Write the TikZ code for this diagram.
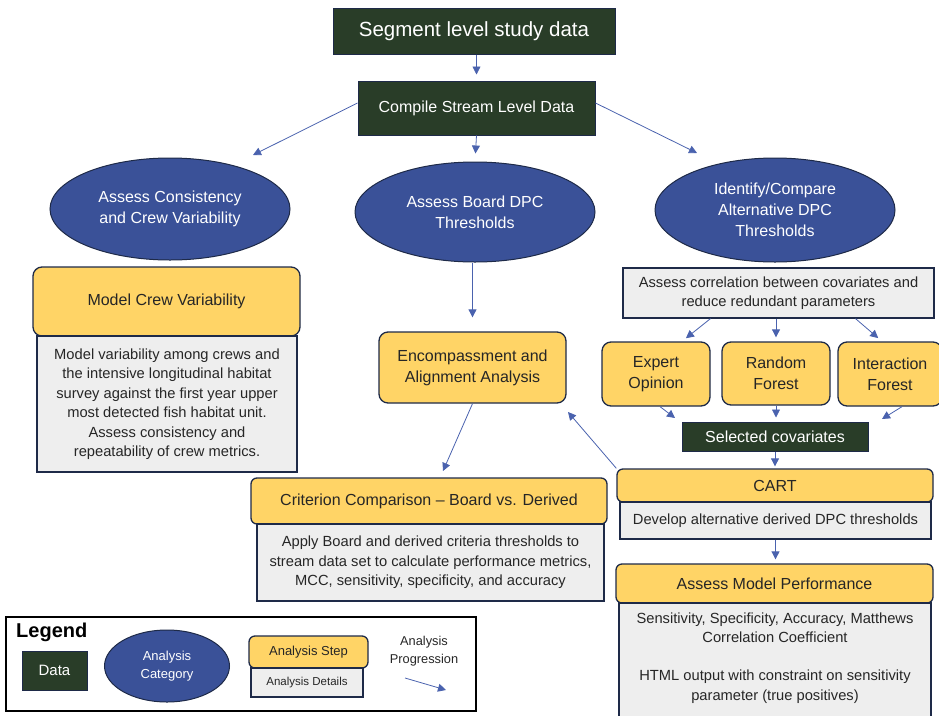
\documentclass[tikz,border=0pt]{standalone}
\usepackage{fontspec}
\setmainfont{Liberation Sans}
\usetikzlibrary{arrows.meta, positioning, shapes.geometric}
\definecolor{datagreen}{HTML}{293D28}
\definecolor{catblue}{HTML}{3A5198}
\definecolor{stepyellow}{HTML}{FFD466}
\definecolor{detgray}{HTML}{EEEEEE}
\definecolor{edgenavy}{HTML}{1E2A48}
\definecolor{flowblue}{HTML}{4A62AE}
\newcommand{\fs}[2]{\fontsize{#1}{#2}\selectfont}

\begin{document}
\begin{tikzpicture}[
  x=1pt, y=-1pt,
  data/.style={draw=edgenavy, line width=1pt, fill=datagreen, text=white,
               align=center, inner sep=0pt},
  cat/.style={ellipse, draw=edgenavy, line width=1pt, fill=catblue, text=white,
              align=center, inner sep=0pt, font=\fs{16}{21}},
  stepbox/.style={draw=edgenavy, line width=1.3pt, fill=stepyellow, text=black!85,
                  rounded corners=9pt, align=center, inner sep=0pt, font=\fs{16}{21}},
  detail/.style={draw=edgenavy, line width=1.2pt, fill=detgray, text=black!85,
                 align=center, inner sep=0pt, font=\fs{14.7}{19.5}},
  flow/.style={draw=flowblue, line width=0.8pt, -{Triangle[length=8pt,width=8pt]}},
  >={Triangle[]}
]
\useasboundingbox (0,0) rectangle (939,715);

% data and categories
\node[data, minimum width=282, minimum height=46, font=\fs{20.5}{24}] (seg) at (474,31) {Segment level study data};
\node[data, minimum width=237, minimum height=54, font=\fs{16}{21}] (comp) at (476.5,108) {Compile Stream Level Data};
\node[cat, minimum width=240, minimum height=102] (crewcat) at (170,209) {Assess Consistency\\and Crew Variability};
\node[cat, minimum width=240, minimum height=100] (boardcat) at (475,212) {Assess Board DPC\\Thresholds};
\node[cat, minimum width=240, minimum height=104] (altcat) at (775,210) {Identify/Compare\\Alternative DPC\\Thresholds};

% left branch
\node[stepbox, minimum width=267, minimum height=69] (crew) at (166.5,301.5) {Model Crew Variability};
\node[detail, minimum width=260, minimum height=136] (crewdet) at (167,404)
  {Model variability among crews and\\the intensive longitudinal habitat\\survey against the first year upper\\most detected fish habitat unit.\\Assess consistency and\\repeatability of crew metrics.};

% middle branch
\node[stepbox, minimum width=187, minimum height=71] (encomp) at (472.5,367.5) {Encompassment and\\Alignment Analysis};
\node[stepbox, rounded corners=6pt, minimum width=356, minimum height=46] (crit) at (429,501) {Criterion Comparison -- Board vs. Derived};
\node[detail, minimum width=347, minimum height=77] (critdet) at (430.5,562.5)
  {Apply Board and derived criteria thresholds to\\stream data set to calculate performance metrics,\\MCC, sensitivity, specificity, and accuracy};

% right branch
\node[detail, minimum width=311, minimum height=50] (corr) at (778.5,293)
  {Assess correlation between covariates and\\reduce redundant parameters};
\node[stepbox, minimum width=108, minimum height=64] (expert) at (656,374) {Expert\\Opinion};
\node[stepbox, minimum width=108, minimum height=63] (rforest) at (776,373.5) {Random\\Forest};
\node[stepbox, minimum width=104, minimum height=64] (iforest) at (890,374) {Interaction\\Forest};
\node[data, minimum width=186, minimum height=29, font=\fs{16}{21}] (selcov) at (775,436.5) {Selected covariates};
\node[stepbox, rounded corners=6pt, minimum width=316, minimum height=33] (cart) at (775,485.5) {CART};
\node[detail, minimum width=311, minimum height=37] (cartdet) at (775.5,520.5) {Develop alternative derived DPC thresholds};
\node[stepbox, rounded corners=6pt, minimum width=317, minimum height=39] (perf) at (774.5,583.5) {Assess Model Performance};
\node[detail, minimum width=312, minimum height=124] (perfdet) at (775,665) {};
\node[below=10pt of perfdet.north, align=center, inner sep=0pt, text=black!85, font=\fs{14.7}{19.5}] (perftext)
  {Sensitivity, Specificity, Accuracy, Matthews\\Correlation Coefficient\\[18.5pt]HTML output with constraint on sensitivity\\parameter (true positives)};

% free arrow ends
\coordinate (crewtip) at (253,155);
\coordinate (alttip) at (697,153);
\coordinate (crittip) at (443,471);
\coordinate (enctip) at (568,412);
\coordinate (exptip) at (675,418);
\coordinate (inttip) at (882,419);

\draw[flow, shorten >=6pt] (seg.south -| comp.north) -- (comp.north);
\draw[flow] ([yshift=5pt]comp.west) -- (crewtip);
\draw[flow, shorten >=8pt] (comp.south) -- (boardcat.north);
\draw[flow] ([yshift=5pt]comp.east) -- (alttip);
\draw[flow, shorten >=14pt] (boardcat.south -| encomp.north) -- (encomp.north);
\draw[flow] (encomp.south) -- (crittip);
\draw[flow] (cart.north west) -- (enctip);
\draw[flow, shorten >=5pt] ([xshift=-68pt]corr.south) -- ([xshift=26pt]expert.north);
\draw[flow, shorten >=4pt] (corr.south -| rforest.north) -- (rforest.north);
\draw[flow, shorten >=5pt] ([xshift=77pt]corr.south) -- ([xshift=-8pt]iforest.north);
\draw[flow] ([xshift=4pt]expert.south) -- (exptip);
\draw[flow, shorten >=4pt] (rforest.south) -- (selcov.north -| rforest.south);
\draw[flow] ([xshift=12pt]iforest.south) -- (inttip);
\draw[flow, shorten >=2pt] (selcov.south) -- (cart.north);
\draw[flow, shorten >=4pt] (cartdet.south) -- (cartdet.south |- perf.north);

% legend
\node[draw=black, line width=1.5pt, minimum width=470, minimum height=94, inner sep=0pt] (legend) at (241,664) {};
\node[anchor=west, font=\bfseries\fs{20}{24}, inner sep=0pt] (legtitle) at (16,632) {Legend};
\node[data, minimum width=65, minimum height=39, font=\fs{15}{21}] (legdata) at (54.5,670.5) {Data};
\node[cat, minimum width=125, minimum height=72, font=\fs{13}{18}] (legcat) at (167,666) {Analysis\\Category};
\node[stepbox, rounded corners=6pt, minimum width=119, minimum height=32, font=\fs{13}{16}] (legstep) at (308.5,652) {Analysis Step};
\node[detail, minimum width=112, minimum height=29, font=\fs{11.5}{14}] (legdet) at (307,682.5) {Analysis Details};
\node[align=center, font=\fs{12.8}{18}, text=black!85, inner sep=0pt] (legprog) at (424,651) {Analysis\\Progression};
\coordinate (legfrom) at (405,678);
\coordinate (legto) at (446,690);
\draw[flow] (legfrom) -- (legto);
\end{tikzpicture}
\end{document}
